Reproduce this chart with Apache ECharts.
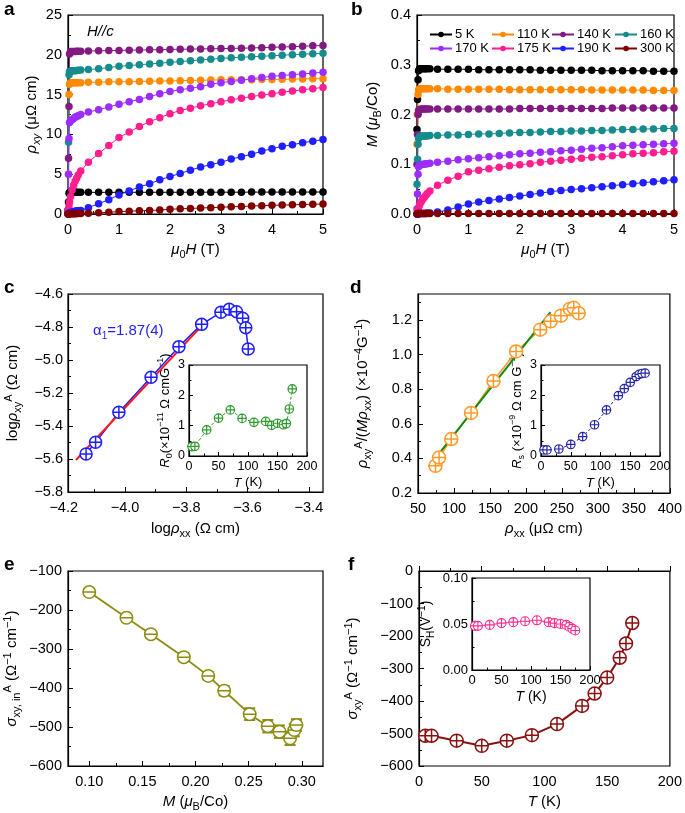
<!DOCTYPE html>
<html><head><meta charset="utf-8">
<script src="https://cdn.jsdelivr.net/npm/echarts@6/dist/echarts.min.js"></script>
<style>html,body{margin:0;padding:0;background:#fff}#chart{width:685px;height:813px}</style>
</head><body><div id="chart"></div>
<script>
// ================= DATA =================
const fieldH = [0, 0.01, 0.02, 0.03, 0.05, 0.08, 0.11, 0.14, 0.17, 0.2, 0.25, 0.4, 0.6, 0.8, 1.0, 1.2, 1.4, 1.6, 1.8, 2.0, 2.2, 2.4, 2.6, 2.8, 3.0, 3.2, 3.4, 3.6, 3.8, 4.0, 4.2, 4.4, 4.6, 4.8, 5.0];
const tempNames = ['5 K', '110 K', '140 K', '160 K', '170 K', '175 K', '190 K', '300 K'];

// panel a: rho_xy (μΩ cm)
const rhoXY_5K   = [0.2, 1.5, 2.6, 2.7, 2.72, 2.72, 2.72, 2.72, 2.72, 2.72, 2.72, 2.72, 2.72, 2.72, 2.72, 2.73, 2.73, 2.73, 2.73, 2.73, 2.73, 2.74, 2.74, 2.74, 2.74, 2.74, 2.74, 2.75, 2.75, 2.75, 2.75, 2.75, 2.75, 2.76, 2.76];
const rhoXY_110K = [0.5, 5.0, 15.0, 16.3, 16.5, 16.5, 16.5, 16.5, 16.5, 16.5, 16.5, 16.55, 16.55, 16.6, 16.6, 16.62, 16.65, 16.68, 16.7, 16.72, 16.75, 16.78, 16.8, 16.82, 16.85, 16.86, 16.87, 16.88, 16.9, 16.9, 16.92, 16.95, 16.97, 17.0, 17.0];
const rhoXY_140K = [0.5, 7.0, 13.5, 20.1, 20.4, 20.4, 20.4, 20.42, 20.44, 20.45, 20.45, 20.48, 20.5, 20.53, 20.55, 20.58, 20.6, 20.62, 20.65, 20.68, 20.7, 20.72, 20.74, 20.76, 20.78, 20.8, 20.83, 20.86, 20.9, 20.94, 20.98, 21.02, 21.08, 21.13, 21.18];
const rhoXY_160K = [0.4, 9.0, 17.5, 17.9, 17.95, 18.0, 18.0, 18.0, 18.02, 18.05, 18.1, 18.15, 18.25, 18.4, 18.55, 18.65, 18.75, 18.85, 18.95, 19.05, 19.15, 19.25, 19.35, 19.45, 19.55, 19.62, 19.7, 19.76, 19.82, 19.88, 19.95, 20.02, 20.08, 20.14, 20.2];
const rhoXY_170K = [0.3, 5.0, 9.5, 11.5, 11.7, 11.85, 12.0, 12.15, 12.25, 12.35, 12.5, 12.8, 13.1, 13.45, 13.8, 14.1, 14.4, 14.75, 15.1, 15.4, 15.6, 15.8, 16.0, 16.3, 16.5, 16.65, 16.8, 17.0, 17.15, 17.3, 17.4, 17.5, 17.6, 17.7, 17.8];
const rhoXY_175K = [0, 0.5, 1.0, 1.5, 2.2, 3.0, 3.6, 4.1, 4.5, 4.9, 5.4, 6.5, 7.6, 8.6, 9.6, 10.3, 11.0, 11.6, 12.1, 12.6, 13.0, 13.3, 13.6, 13.85, 14.1, 14.35, 14.55, 14.75, 14.95, 15.1, 15.3, 15.45, 15.6, 15.75, 15.9];
const rhoXY_190K = [0, 0.05, 0.1, 0.15, 0.2, 0.25, 0.3, 0.35, 0.4, 0.4, 0.45, 0.8, 1.3, 1.8, 2.4, 2.9, 3.4, 3.8, 4.3, 4.7, 5.1, 5.5, 5.9, 6.2, 6.5, 6.9, 7.2, 7.5, 7.9, 8.2, 8.5, 8.7, 8.95, 9.15, 9.35];
const rhoXY_300K = [0, 0.02, 0.02, 0.02, 0.03, 0.03, 0.04, 0.04, 0.05, 0.05, 0.06, 0.1, 0.15, 0.22, 0.3, 0.35, 0.4, 0.45, 0.5, 0.6, 0.65, 0.7, 0.75, 0.8, 0.85, 0.9, 0.95, 1.0, 1.05, 1.1, 1.12, 1.15, 1.2, 1.22, 1.26];

// panel b: M (μB/Co)
const mag_5K   = [0.17, 0.23, 0.27, 0.288, 0.292, 0.292, 0.292, 0.292, 0.292, 0.292, 0.292, 0.291, 0.291, 0.291, 0.291, 0.290, 0.290, 0.290, 0.290, 0.290, 0.290, 0.289, 0.289, 0.289, 0.289, 0.289, 0.289, 0.288, 0.288, 0.288, 0.288, 0.288, 0.287, 0.287, 0.287];
const mag_110K = [0.14, 0.2, 0.24, 0.25, 0.252, 0.252, 0.252, 0.252, 0.252, 0.252, 0.252, 0.252, 0.251, 0.251, 0.251, 0.251, 0.251, 0.251, 0.250, 0.250, 0.250, 0.250, 0.250, 0.250, 0.250, 0.250, 0.249, 0.249, 0.249, 0.249, 0.249, 0.249, 0.248, 0.248, 0.248];
const mag_140K = [0.1, 0.16, 0.2, 0.208, 0.21, 0.211, 0.211, 0.211, 0.211, 0.211, 0.211, 0.211, 0.211, 0.211, 0.211, 0.211, 0.211, 0.211, 0.211, 0.212, 0.212, 0.212, 0.212, 0.212, 0.212, 0.212, 0.212, 0.212, 0.213, 0.213, 0.213, 0.213, 0.213, 0.213, 0.213];
const mag_160K = [0.06, 0.11, 0.14, 0.152, 0.156, 0.157, 0.157, 0.157, 0.157, 0.157, 0.158, 0.158, 0.159, 0.159, 0.160, 0.161, 0.161, 0.162, 0.163, 0.164, 0.164, 0.165, 0.166, 0.166, 0.167, 0.167, 0.168, 0.168, 0.169, 0.170, 0.170, 0.171, 0.171, 0.172, 0.172];
const mag_170K = [0.01, 0.04, 0.08, 0.095, 0.098, 0.099, 0.1, 0.1, 0.101, 0.101, 0.102, 0.104, 0.106, 0.109, 0.111, 0.113, 0.115, 0.117, 0.119, 0.121, 0.122, 0.124, 0.125, 0.127, 0.128, 0.130, 0.132, 0.133, 0.135, 0.137, 0.138, 0.139, 0.140, 0.141, 0.142];
const mag_175K = [0, 0.004, 0.008, 0.012, 0.018, 0.024, 0.029, 0.033, 0.037, 0.041, 0.046, 0.058, 0.068, 0.076, 0.085, 0.088, 0.091, 0.094, 0.097, 0.099, 0.101, 0.104, 0.106, 0.108, 0.110, 0.112, 0.114, 0.115, 0.117, 0.119, 0.121, 0.122, 0.123, 0.125, 0.126];
const mag_190K = [0, 0, 0, 0, 0.001, 0.001, 0.001, 0.001, 0.001, 0.002, 0.002, 0.004, 0.008, 0.014, 0.020, 0.024, 0.027, 0.030, 0.033, 0.036, 0.039, 0.042, 0.045, 0.047, 0.049, 0.051, 0.053, 0.055, 0.057, 0.059, 0.061, 0.063, 0.065, 0.067, 0.069];
const mag_300K = [0, 0.001, 0.001, 0.001, 0.001, 0.001, 0.001, 0.001, 0.001, 0.001, 0.001, 0.001, 0.001, 0.001, 0.001, 0.001, 0.001, 0.001, 0.001, 0.001, 0.001, 0.001, 0.001, 0.001, 0.001, 0.001, 0.001, 0.001, 0.001, 0.001, 0.001, 0.001, 0.001, 0.001, 0.001];

// panel c
const cLogRhoXX  = [-4.127, -4.096, -4.020, -3.915, -3.824, -3.750, -3.687, -3.660, -3.636, -3.616, -3.606, -3.598];
const cLogRhoXYA = [-5.570, -5.499, -5.317, -5.105, -4.919, -4.784, -4.711, -4.693, -4.707, -4.747, -4.804, -4.933];
const cFitX = [-4.160, -3.742];
const cFitY = [-5.606, -4.778];
const insetT = [5, 10, 30, 50, 70, 90, 110, 130, 140, 150, 160, 165, 170, 175];
const cR0 = [0.31, 0.32, 0.86, 1.25, 1.52, 1.24, 1.11, 1.14, 1.01, 1.08, 1.03, 1.07, 1.55, 2.21];

// panel d
const dRhoXX = [74.3, 79.3, 96.2, 123.7, 154.8, 186.3, 219.8, 234.3, 248.6, 260.9, 266.4, 273.3];
const dRatio = [0.357, 0.405, 0.512, 0.663, 0.847, 1.018, 1.144, 1.192, 1.225, 1.264, 1.270, 1.239];
const dFitX = [65, 234];
const dFitY = [0.353, 1.245];
const dRs = [0.2, 0.2, 0.23, 0.38, 0.64, 1.03, 1.52, 1.99, 2.22, 2.43, 2.62, 2.69, 2.72, 2.73];

// panel e
const eM = [0.100, 0.135, 0.158, 0.189, 0.212, 0.227, 0.251, 0.268, 0.279, 0.289, 0.293, 0.295];
const eSigma = [-154, -220, -262, -321, -369, -407, -467, -498, -512, -529, -508, -495];
const eErr = [7, 8, 8, 9, 10, 12, 15, 16, 16, 17, 16, 15];

// panel f
const fT = [5, 10, 30, 50, 70, 90, 110, 130, 140, 150, 160, 165, 170];
const fSigma = [-507, -507, -522, -538, -522, -505, -471, -415, -377, -328, -267, -223, -160];
const fSH = [0.048, 0.048, 0.049, 0.051, 0.052, 0.053, 0.054, 0.052, 0.051, 0.050, 0.049, 0.047, 0.045, 0.043];

// tick values
const aXTicks = [0, 1, 2, 3, 4, 5], aXMinor = [0.5, 1.5, 2.5, 3.5, 4.5];
const aYTicks = [0, 5, 10, 15, 20, 25], aYMinor = [2.5, 7.5, 12.5, 17.5, 22.5];
const bYTicks = [0, 0.1, 0.2, 0.3, 0.4], bYMinor = [0.05, 0.15, 0.25, 0.35];
const cXTicks = [-4.0, -3.8, -3.6, -3.4], cXMinor = [-4.1, -3.9, -3.7, -3.5];
const cXOuterLabel = -4.2;
const cYTicks = [-5.8, -5.6, -5.4, -5.2, -5.0, -4.8, -4.6], cYMinor = [-5.7, -5.5, -5.3, -5.1, -4.9, -4.7];
const inXTicks = [0, 50, 100, 150, 200], inXMinor = [25, 75, 125, 175];
const inYTicks = [0, 1, 2, 3], inYMinor = [0.5, 1.5, 2.5];
const dXTicks = [50, 100, 150, 200, 250, 300, 350, 400], dXMinor = [75, 125, 175, 225, 275, 325, 375];
const dYTicks = [0.2, 0.4, 0.6, 0.8, 1.0, 1.2], dYMinor = [0.3, 0.5, 0.7, 0.9, 1.1, 1.3];
const eXTicks = [0.10, 0.15, 0.20, 0.25, 0.30], eXMinor = [0.125, 0.175, 0.225, 0.275];
const eYTicks = [-600, -500, -400, -300, -200, -100], eYMinor = [-550, -450, -350, -250, -150];
const fXTicks = [0, 50, 100, 150, 200], fXMinor = [25, 75, 125, 175];
const fYTicks = [-600, -500, -400, -300, -200, -100, 0], fYMinor = [-550, -450, -350, -250, -150, -50];
const fInYTicks = [0.00, 0.05, 0.10], fInYMinor = [0.025, 0.075];

// ================= BUILD =================
const FF = '"Liberation Sans", Arial, Helvetica, sans-serif';
const rhoXYSeries = [rhoXY_5K, rhoXY_110K, rhoXY_140K, rhoXY_160K, rhoXY_170K, rhoXY_175K, rhoXY_190K, rhoXY_300K];
const magSeries = [mag_5K, mag_110K, mag_140K, mag_160K, mag_170K, mag_175K, mag_190K, mag_300K];
const tColors = ['#000000', '#FF8A00', '#821A82', '#168C8C', '#9B2DFF', '#FF1E8E', '#1F1FFF', '#800000'];

const CROSS = 'path://M0,-10A10,10,0,1,1,0,10A10,10,0,1,1,0,-10ZM-10,0L10,0M0,-10L0,10';
const HBAR = 'path://M0,-10A10,10,0,1,1,0,10A10,10,0,1,1,0,-10ZM-10,0L10,0';

function richSet(fs) {
  const s = Math.round(fs * 0.72);
  const lh = Math.round(fs * 1.35);
  return {
    i: { fontStyle: 'italic', fontSize: fs, fontFamily: FF, lineHeight: lh, color: '#000' },
    sub: { fontSize: s, fontFamily: FF, verticalAlign: 'bottom', lineHeight: s, color: '#000' },
    isub: { fontSize: s, fontStyle: 'italic', fontFamily: FF, verticalAlign: 'bottom', lineHeight: s, color: '#000' },
    sup: { fontSize: s, fontFamily: FF, verticalAlign: 'top', lineHeight: s, color: '#000' }
  };
}
function nameStyle(fs) {
  return { fontSize: fs, fontFamily: FF, color: '#000', lineHeight: Math.round(fs * 1.35), rich: richSet(fs) };
}
const fmtDec = d => v => (v < -1e-9 ? '\u2212' : '') + Math.abs(v).toFixed(d);

const grids = [
  { left: 68, top: 15, width: 255, height: 199 },   // a
  { left: 417, top: 15, width: 257, height: 199 },  // b
  { left: 68, top: 294, width: 255, height: 198 },  // c
  { left: 189, top: 365, width: 118, height: 91 },  // c inset
  { left: 418, top: 294, width: 255, height: 199 }, // d
  { left: 541, top: 365, width: 119, height: 91 },  // d inset
  { left: 68, top: 571, width: 255, height: 196 },  // e
  { left: 419, top: 571, width: 253, height: 196 }, // f
  { left: 472, top: 578, width: 118, height: 92 }   // f inset
].map(g => Object.assign({ show: true, borderColor: '#000', borderWidth: 1.2, backgroundColor: '#fff' }, g));

const xAxes = [], yAxes = [];
function addAxes(g, x, y) {
  const mk = (dim, c) => {
    const main = {
      type: 'value', gridIndex: g, min: c.min, max: c.max,
      position: dim === 'x' ? 'bottom' : 'left',
      axisLine: { show: true, lineStyle: { color: '#000', width: 1.2 } },
      axisTick: { show: true, inside: true, length: c.inset ? 4 : 5, customValues: c.ticks, lineStyle: { color: '#000', width: 1 } },
      axisLabel: { customValues: c.ticks, formatter: c.fmt, margin: c.margin, fontSize: c.fs, fontFamily: FF, color: '#000' },
      splitLine: { show: false },
      name: c.name, nameLocation: 'middle', nameGap: c.gap, nameTextStyle: nameStyle(c.nfs)
    };
    if (dim === 'y') main.nameRotate = 90;
    const minor = {
      type: 'value', gridIndex: g, min: c.min, max: c.max, offset: 0,
      position: dim === 'x' ? 'bottom' : 'left',
      axisLine: { show: false }, axisLabel: { show: false }, splitLine: { show: false },
      axisTick: { show: true, inside: true, length: c.inset ? 2.5 : 3, customValues: c.minor, lineStyle: { color: '#000', width: 1 } }
    };
    return [main, minor];
  };
  xAxes.push(...mk('x', x));
  yAxes.push(...mk('y', y));
}
const MAIN = { fs: 14.5, nfs: 15 };
const INS = { fs: 12.5, nfs: 13, inset: true };
const INSF = { fs: 13, nfs: 14, inset: true };
const HX = '{i|\u03bc}{sub|0}{i|H} (T)';
// a
addAxes(0, Object.assign({ min: 0, max: 5, ticks: aXTicks, minor: aXMinor, fmt: fmtDec(0), margin: 8, name: HX, gap: 26 }, MAIN),
           Object.assign({ min: 0, max: 25, ticks: aYTicks, minor: aYMinor, fmt: fmtDec(0), margin: 6, name: '{i|\u03c1}{isub|xy} (\u03bc\u03a9 cm)', gap: 26 }, MAIN));
// b
addAxes(1, Object.assign({ min: 0, max: 5, ticks: aXTicks, minor: aXMinor, fmt: fmtDec(0), margin: 8, name: HX, gap: 26 }, MAIN),
           Object.assign({ min: 0, max: 0.4, ticks: bYTicks, minor: bYMinor, fmt: fmtDec(1), margin: 6, name: '{i|M} ({i|\u03bc}{sub|B}/Co)', gap: 34 }, MAIN));
// c
addAxes(2, Object.assign({ min: -4.186, max: -3.354, ticks: cXTicks, minor: cXMinor, fmt: fmtDec(1), margin: 8, name: 'log{i|\u03c1}{sub|xx} (\u03a9 cm)', gap: 27 }, MAIN),
           Object.assign({ min: -5.8, max: -4.6, ticks: cYTicks, minor: cYMinor, fmt: fmtDec(1), margin: 5, name: 'log{i|\u03c1}{sub|xy}{sup|A} (\u03a9 cm)', gap: 45 }, MAIN));
// c inset
addAxes(3, Object.assign({ min: 0, max: 200, ticks: inXTicks, minor: inXMinor, fmt: fmtDec(0), margin: 4, name: '{i|T} (K)', gap: 16 }, INS),
           Object.assign({ min: 0, max: 3, ticks: inYTicks, minor: inYMinor, fmt: fmtDec(0), margin: 4, name: '{i|R}{sub|0}(\u00d710{sup|\u221211} \u03a9 cmG{sup|\u22121})', gap: 11 }, INS));
// d
addAxes(4, Object.assign({ min: 50, max: 400, ticks: dXTicks, minor: dXMinor, fmt: fmtDec(0), margin: 8, name: '{i|\u03c1}{sub|xx} (\u03bc\u03a9 cm)', gap: 26 }, MAIN),
           Object.assign({ min: 0.2, max: 1.35, ticks: dYTicks, minor: dYMinor, fmt: fmtDec(1), margin: 6, name: '{i|\u03c1}{sub|xy}{sup|A}/({i|M\u03c1}{sub|xx}) (\u00d710{sup|\u22124}G{sup|\u22121})', gap: 45 }, MAIN));
// d inset
addAxes(5, Object.assign({ min: 0, max: 200, ticks: inXTicks, minor: inXMinor, fmt: fmtDec(0), margin: 4, name: '{i|T} (K)', gap: 14 }, INS),
           Object.assign({ min: 0, max: 3, ticks: inYTicks, minor: inYMinor, fmt: fmtDec(0), margin: 4, name: '{i|R}{sub|s} (\u00d710{sup|\u22129} \u03a9 cm G{sup|\u22121})', gap: 11 }, INS));
// e
addAxes(6, Object.assign({ min: 0.08, max: 0.32, ticks: eXTicks, minor: eXMinor, fmt: fmtDec(2), margin: 8, name: '{i|M} ({i|\u03bc}{sub|B}/Co)', gap: 26 }, MAIN),
           Object.assign({ min: -600, max: -100, ticks: eYTicks, minor: eYMinor, fmt: fmtDec(0), margin: 6, name: '{i|\u03c3}{sub|xy, in}{sup|A} (\u03a9{sup|\u22121} cm{sup|\u22121})', gap: 46 }, MAIN));
// f
addAxes(7, Object.assign({ min: 0, max: 200, ticks: fXTicks, minor: fXMinor, fmt: fmtDec(0), margin: 8, name: '{i|T} (K)', gap: 26 }, MAIN),
           Object.assign({ min: -600, max: 0, ticks: fYTicks, minor: fYMinor, fmt: fmtDec(0), margin: 6, name: '{i|\u03c3}{sub|xy}{sup|A} (\u03a9{sup|\u22121} cm{sup|\u22121})', gap: 56 }, MAIN));
// f inset
addAxes(8, Object.assign({ min: 0, max: 200, ticks: inXTicks, minor: inXMinor, fmt: fmtDec(0), margin: 4, name: '{i|T} (K)', gap: 17 }, INSF),
           Object.assign({ min: 0, max: 0.1, ticks: fInYTicks, minor: fInYMinor, fmt: fmtDec(2), margin: 4, name: 'S{sub|H}(V{sup|\u22121})', gap: 36 }, INSF));

const ax = g => ({ xAxisIndex: 2 * g, yAxisIndex: 2 * g });
const zip = (xs, ys) => xs.map((x, i) => [x, ys[i]]);
const series = [];

// a & b
[[0, rhoXYSeries], [1, magSeries]].forEach(([g, arr]) => {
  arr.forEach((vals, k) => {
    series.push(Object.assign({
      type: 'line', name: tempNames[k], data: zip(fieldH, vals),
      symbol: 'circle', symbolSize: 7.5, showSymbol: true,
      itemStyle: { color: tColors[k] }, lineStyle: { color: tColors[k], width: 1 },
      emphasis: { disabled: true }
    }, ax(g)));
  });
});

function lineOnly(g, xs, ys, color, width, type) {
  return Object.assign({ type: 'line', data: zip(xs, ys), showSymbol: false, symbol: 'none',
    lineStyle: { color, width, type: type || 'solid' }, emphasis: { disabled: true } }, ax(g));
}
function marks(g, xs, ys, color, size, sym, bw) {
  return Object.assign({ type: 'scatter', data: zip(xs, ys), symbol: sym || CROSS, symbolSize: size,
    itemStyle: { color: '#fff', borderColor: color, borderWidth: bw || 1.3, opacity: 1 }, emphasis: { disabled: true }, z: 5 }, ax(g));
}
// c
series.push(lineOnly(2, cLogRhoXX, cLogRhoXYA, '#1E1EFF', 1.5));
series.push(lineOnly(2, cFitX, cFitY, '#FF1A1A', 2));
series.push(marks(2, cLogRhoXX, cLogRhoXYA, '#1E1EFF', 12, CROSS, 1.5));
// c inset
series.push(lineOnly(3, insetT, cR0, '#2E9A2E', 1, [3, 2]));
series.push(marks(3, insetT, cR0, '#2E9A2E', 8.5, CROSS, 1.2));
// d
series.push(lineOnly(4, dRhoXX, dRatio, '#FF9A2A', 1.5));
series.push(lineOnly(4, dFitX, dFitY, '#118A11', 2));
series.push(marks(4, dRhoXX, dRatio, '#FF9A2A', 13, CROSS, 1.5));
// d inset
series.push(lineOnly(5, insetT, dRs, '#2626A8', 1, [3, 2]));
series.push(marks(5, insetT, dRs, '#2626A8', 8.5, CROSS, 1.2));
// e
const eCol = '#8C8C10';
series.push(lineOnly(6, eM, eSigma, eCol, 1.8));
series.push(Object.assign({
  type: 'custom', z: 4,
  data: eM.map((m, i) => [m, eSigma[i], eErr[i]]),
  renderItem: (params, api) => {
    const x = api.value(0), y = api.value(1), e = api.value(2);
    const t = api.coord([x, y + e]), b = api.coord([x, y - e]);
    const w = 5.5, st = { stroke: eCol, lineWidth: 2 };
    return { type: 'group', children: [
      { type: 'line', shape: { x1: t[0], y1: t[1], x2: b[0], y2: b[1] }, style: st },
      { type: 'line', shape: { x1: t[0] - w, y1: t[1], x2: t[0] + w, y2: t[1] }, style: st },
      { type: 'line', shape: { x1: b[0] - w, y1: b[1], x2: b[0] + w, y2: b[1] }, style: st }
    ] };
  }
}, ax(6)));
series.push(marks(6, eM, eSigma, eCol, 12.5, HBAR, 1.5));
// f
series.push(lineOnly(7, fT, fSigma, '#8B1010', 2));
series.push(marks(7, fT, fSigma, '#8B1010', 13, CROSS, 1.5));
// f inset
series.push(lineOnly(8, insetT, fSH, '#FF2A90', 1));
series.push(marks(8, insetT, fSH, '#FF2A90', 9, CROSS, 1.1));

const legendCols = [['5 K', '170 K'], ['110 K', '175 K'], ['140 K', '190 K'], ['160 K', '300 K']];
const legendLeft = [424, 486, 546, 609];
const legends = legendCols.map((d, j) => ({
  orient: 'vertical', left: legendLeft[j], top: 23, itemWidth: 22, itemHeight: 7, itemGap: 1,
  selectedMode: false, data: d, textStyle: { fontSize: 13, fontFamily: FF, color: '#000', padding: [0, 0, 0, -2] }
}));

const letter = (id, t, x, y) => ({ type: 'text', id, left: x, top: y, style: { text: t, font: 'bold 19px ' + FF, fill: '#000' } });
const graphics = [
  letter('la', 'a', 4, 0), letter('lb', 'b', 351, 0), letter('lc', 'c', 4, 278), letter('ld', 'd', 350, 278),
  letter('le', 'e', 4, 555), letter('lf', 'f', 348, 555),
  { type: 'text', id: 'hc', left: 87, top: 24, style: { text: 'H//c', font: 'italic 15px ' + FF, fill: '#000' } },
  { type: 'text', id: 'alpha', left: 93, top: 321, style: { text: '\u03b1{s|1}=1.87(4)', font: '15px ' + FF, fill: '#1E1EFF',
      rich: { s: { fontSize: 10, verticalAlign: 'bottom', lineHeight: 10, fill: '#1E1EFF', fontFamily: FF } }, lineHeight: 20 } }
];

const option = {
  animation: false,
  backgroundColor: '#fff',
  textStyle: { fontFamily: FF },
  grid: grids, xAxis: xAxes, yAxis: yAxes,
  legend: legends,
  series, graphic: graphics
};
const chart = echarts.init(document.getElementById('chart'), null, { renderer: 'canvas' });
chart.setOption(option);
// tick label -4.2 lies just left of the c frame: place it through the axis scale
const px = chart.convertToPixel({ xAxisIndex: 4 }, cXOuterLabel);
const py = grids[2].top + grids[2].height + 8;
chart.setOption({ graphic: graphics.concat([{ type: 'text', id: 'c42', x: px, y: py,
  style: { text: fmtDec(1)(cXOuterLabel), font: '14.5px ' + FF, fill: '#000', align: 'center', verticalAlign: 'top' } }]) });
</script>
</body></html>
